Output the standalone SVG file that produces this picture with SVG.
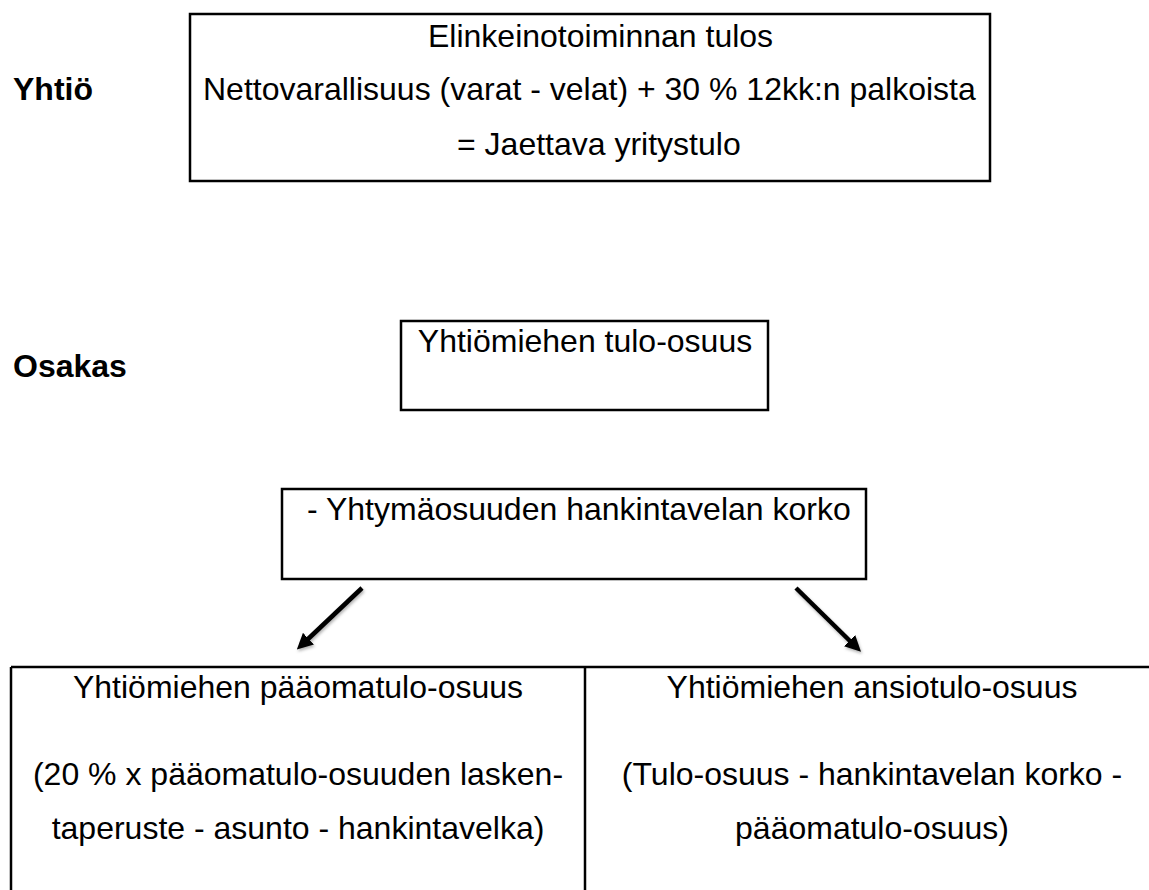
<svg xmlns="http://www.w3.org/2000/svg" width="1149" height="890" viewBox="0 0 1149 890">
  <style>
    .t { font-family: "Liberation Sans", Arial, sans-serif; font-size: 32px; fill: #000; }
    .b { font-family: "Liberation Sans", Arial, sans-serif; font-size: 32px; font-weight: bold; fill: #000; }
    .box { fill: #fff; stroke: #000; stroke-width: 2.5; }
    .ln { stroke: #000; stroke-width: 2.5; fill: none; }
    .arr { stroke: #000; stroke-width: 4.5; fill: none; marker-end: url(#ah); filter: url(#sh); }
  </style>
  <defs>
    <marker id="ah" viewBox="0 0 16 16" markerWidth="16" markerHeight="16" refX="2" refY="8" orient="auto" markerUnits="userSpaceOnUse">
      <path d="M0,0 L16,8 L0,16 z" fill="#000"/>
    </marker>
    <filter id="sh" x="-50%" y="-50%" width="200%" height="200%">
      <feDropShadow dx="1" dy="2" stdDeviation="1.5" flood-color="#000" flood-opacity="0.3"/>
    </filter>
  </defs>
  <rect width="1149" height="890" fill="#fff"/>

  <g id="label-yhtio">
    <text class="b" x="13" y="100">Yhtiö</text>
  </g>
  <g id="label-osakas">
    <text class="b" x="13" y="377">Osakas</text>
  </g>

  <g id="node-yritystulo">
    <rect class="box" x="190" y="14" width="800" height="167"/>
    <text class="t" x="428" y="47">Elinkeinotoiminnan tulos</text>
    <text class="t" x="203" y="100">Nettovarallisuus (varat - velat) + 30 % 12kk:n palkoista</text>
    <text class="t" x="457" y="155">= Jaettava yritystulo</text>
  </g>

  <g id="node-tulo-osuus">
    <rect class="box" x="401" y="321" width="367" height="89"/>
    <text class="t" x="585" y="352" text-anchor="middle">Yhtiömiehen tulo-osuus</text>
  </g>

  <g id="node-korko">
    <rect class="box" x="282" y="489" width="584" height="90"/>
    <text class="t" x="307" y="520"> - Yhtymäosuuden hankintavelan korko</text>
  </g>

  <g id="node-table">
    <line class="ln" x1="11" y1="667" x2="1149" y2="667"/>
    <line class="ln" x1="11" y1="667" x2="11" y2="890"/>
    <line class="ln" x1="585" y1="667" x2="585" y2="890"/>
  </g>
  <g id="node-paaomatulo">
    <text class="t" x="298" y="698" text-anchor="middle">Yhtiömiehen pääomatulo-osuus</text>
    <text class="t" x="298" y="785" text-anchor="middle">(20 % x pääomatulo-osuuden lasken-</text>
    <text class="t" x="298" y="839" text-anchor="middle">taperuste - asunto - hankintavelka)</text>
  </g>
  <g id="node-ansiotulo">
    <text class="t" x="872" y="698" text-anchor="middle">Yhtiömiehen ansiotulo-osuus</text>
    <text class="t" x="872" y="785" text-anchor="middle">(Tulo-osuus - hankintavelan korko -</text>
    <text class="t" x="872" y="839" text-anchor="middle">pääomatulo-osuus)</text>
  </g>

  <g id="connectors">
    <line class="arr" x1="584" y1="417" x2="584" y2="466"/>
    <line class="arr" x1="362" y1="588" x2="307" y2="640"/>
    <line class="arr" x1="796" y1="588" x2="851" y2="642"/>
  </g>
</svg>
